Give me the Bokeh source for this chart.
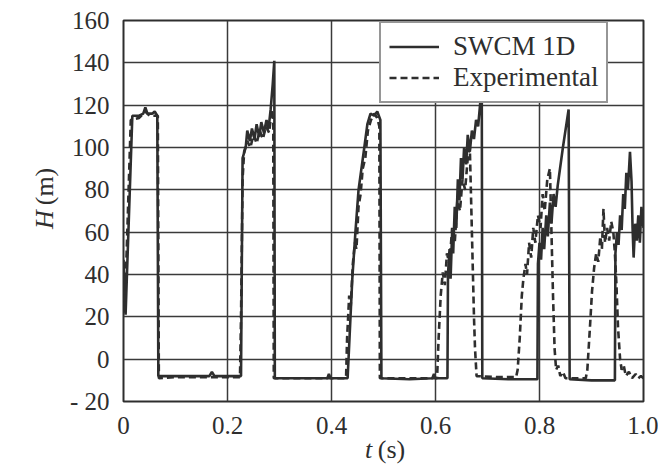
from bokeh.plotting import figure
from bokeh.models import Label, Legend, LegendItem, FixedTicker
from bokeh.embed import file_html
from bokeh.resources import INLINE

# ---- data ----
swcm_t = [0.0, 0.004, 0.017, 0.030, 0.038, 0.042, 0.046, 0.055, 0.060, 0.065, 0.067, 0.10, 0.165, 0.170, 0.175, 0.226,
          0.229, 0.235, 0.238, 0.243, 0.247, 0.252, 0.256, 0.261, 0.265, 0.270, 0.275, 0.279, 0.283, 0.287, 0.290, 0.291,
          0.35, 0.392, 0.395, 0.398, 0.431,
          0.440, 0.446, 0.452, 0.462, 0.469, 0.475, 0.482, 0.488, 0.494, 0.496,
          0.55, 0.594, 0.597, 0.600, 0.623,
          0.624, 0.627, 0.629, 0.632, 0.634, 0.637, 0.640, 0.643, 0.646, 0.649, 0.652, 0.655, 0.659, 0.662, 0.666,
          0.670, 0.674, 0.678, 0.682, 0.686, 0.689, 0.690,
          0.74, 0.796,
          0.797, 0.800, 0.803, 0.806, 0.809, 0.813, 0.816, 0.820, 0.823, 0.827, 0.831, 0.835, 0.845, 0.856, 0.858,
          0.90, 0.945,
          0.946, 0.949, 0.952, 0.955, 0.958, 0.961, 0.964, 0.967, 0.970, 0.974, 0.977, 0.979, 0.981, 0.984, 0.987,
          0.990, 0.993, 0.996, 1.0]
swcm_h = [47, 21, 115, 115, 116, 119, 116, 116, 117, 115, -8, -8, -8, -6, -8, -8,
          95, 100, 108, 103, 109, 104, 111, 105, 112, 107, 113, 109, 118, 130, 141, -9,
          -9, -9, -7, -9, -9,
          38, 60, 80, 98, 111, 116, 115, 117, 113, -9,
          -9.5, -9, -7, -9, -9,
          40, 52, 38, 60, 50, 72, 62, 85, 75, 95, 85, 100, 92, 106, 98,
          108, 104, 113, 110, 121, 125, -9,
          -9.5, -9.5,
          45, 55, 47, 62, 52, 68, 58, 74, 64, 78, 72, 82, 100, 118, -9.5,
          -10, -10,
          50, 60, 54, 68, 61, 78, 71, 88, 80, 98, 84, 62, 48, 64, 56,
          68, 55, 72, 62]

exp_t = [0.002, 0.006, 0.014, 0.030, 0.042, 0.050, 0.066, 0.068, 0.10, 0.16, 0.224,
         0.226, 0.229, 0.232, 0.238, 0.244, 0.250, 0.256, 0.262, 0.268, 0.274, 0.280, 0.285, 0.288, 0.289, 0.35, 0.428,
         0.430, 0.434, 0.437, 0.441, 0.445, 0.448, 0.452, 0.456, 0.460, 0.465, 0.470, 0.476, 0.482, 0.488, 0.492, 0.493,
         0.55, 0.603,
         0.606, 0.610, 0.614, 0.618, 0.622, 0.627, 0.632, 0.637, 0.642, 0.647, 0.652, 0.657, 0.662, 0.666, 0.668,
         0.670, 0.672, 0.674, 0.676, 0.679, 0.72, 0.755,
         0.758, 0.762, 0.766, 0.769, 0.773, 0.776, 0.780, 0.784, 0.788, 0.792, 0.797, 0.802, 0.806, 0.810, 0.815,
         0.820, 0.822, 0.824, 0.826, 0.829, 0.832, 0.836, 0.840, 0.845, 0.850, 0.889,
         0.892, 0.897, 0.901, 0.905, 0.909, 0.913, 0.917, 0.920, 0.923, 0.926, 0.930, 0.934, 0.938, 0.942, 0.945,
         0.948, 0.951, 0.955, 0.958, 0.962, 0.966, 0.972, 0.978, 0.985, 0.990, 0.995, 1.0]
exp_h = [22, 50, 113, 114, 117, 115, 115, -9, -8.5, -8.5, -8.5,
         20, 85, 98, 103, 100, 106, 102, 108, 104, 110, 107, 118, 112, -9, -9, -9,
         10, 30, 25, 45, 55, 52, 72, 78, 90, 95, 108, 113, 116, 114, 110, -9,
         -9, -9,
         10, 30, 41, 35, 50, 45, 62, 55, 75, 70, 85, 80, 95, 100, 80,
         60, 40, 20, 5, -8, -8.5, -8.5,
         -5, 10, 30, 38, 45, 40, 55, 48, 62, 55, 68, 62, 78, 70, 85,
         90, 70, 50, 30, 5, -5, -3, -8, -6, -9, -9,
         -5, 15, 32, 43, 50, 46, 58, 52, 71, 55, 62, 56, 65, 60, 50,
         35, 15, 0, -5, -3, -8, -6, -9, -7, -9, -8, -9]

x_ticks = [0, 0.2, 0.4, 0.6, 0.8, 1.0]
x_labels = ["0", "0.2", "0.4", "0.6", "0.8", "1.0"]
y_ticks = [-20, 0, 20, 40, 60, 80, 100, 120, 140, 160]
y_labels = ["- 20", "0", "20", "40", "60", "80", "100", "120", "140", "160"]
series_names = ["SWCM 1D", "Experimental"]

FONT = "Liberation Serif"
INK = "#2e2e2e"

p = figure(width=658, height=467, output_backend="svg", toolbar_location=None,
           x_range=(0, 1.0), y_range=(-20, 160),
           min_border_left=123, min_border_right=15, min_border_top=20, min_border_bottom=66)
p.background_fill_color = "white"
p.border_fill_color = "white"
p.outline_line_color = INK
p.outline_line_width = 2

p.xaxis.ticker = FixedTicker(ticks=x_ticks)
p.yaxis.ticker = FixedTicker(ticks=y_ticks)
p.xaxis.major_label_overrides = {t: l for t, l in zip(x_ticks, x_labels)}
p.yaxis.major_label_overrides = {t: l for t, l in zip(y_ticks, y_labels)}
for ax in (p.xaxis[0], p.yaxis[0]):
    ax.axis_line_color = None
    ax.major_tick_line_color = None
    ax.minor_tick_line_color = None
    ax.major_label_text_font = FONT
    ax.major_label_text_font_size = "25px"
    ax.major_label_text_color = INK
p.xaxis.major_label_standoff = 9
p.yaxis.major_label_standoff = 8

p.xgrid.ticker = FixedTicker(ticks=x_ticks)
p.ygrid.ticker = FixedTicker(ticks=y_ticks)
for g in (p.xgrid[0], p.ygrid[0]):
    g.grid_line_color = "#3a3a3a"
    g.grid_line_width = 1.5
    g.grid_line_alpha = 1.0

r1 = p.line(swcm_t, swcm_h, line_color=INK, line_width=2.6)
r2 = p.line(exp_t, exp_h, line_color=INK, line_width=2.6, line_dash="7 4")

legend = Legend(items=[LegendItem(label=series_names[0], renderers=[r1]),
                       LegendItem(label=series_names[1], renderers=[r2])],
                location=(256, 298))
legend.label_text_font = FONT
legend.label_text_font_size = "27px"
legend.label_text_color = INK
legend.glyph_width = 50
legend.glyph_height = 27
legend.label_height = 27
legend.label_standoff = 14
legend.padding = 8
legend.spacing = 0
legend.margin = 0
legend.border_line_color = INK
legend.border_line_width = 2
legend.background_fill_alpha = 1.0
p.add_layout(legend)

# axis titles (italic variable + upright unit), placed in canvas pixels in the side panels
def title_part(x, y, txt, italic, angle=0.0):
    return Label(x=x, y=y, x_units="canvas", y_units="canvas", text=txt, angle=angle,
                 text_font=FONT, text_font_style="italic" if italic else "normal",
                 text_font_size="26px", text_color=INK, text_align="center", text_baseline="middle")

p.add_layout(title_part(44, 219, "H", True, 1.5708), "left")
p.add_layout(title_part(44, 186, "(m)", False, 1.5708), "left")
p.add_layout(title_part(368, 449, "t", True), "right")
p.add_layout(title_part(391, 449, "(s)", False), "below")

open("out.html", "w").write(file_html(p, INLINE))
